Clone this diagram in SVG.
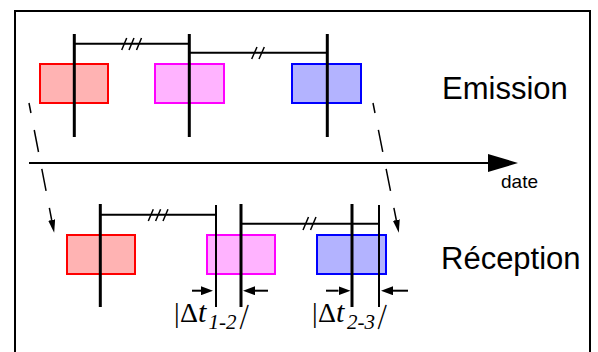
<svg xmlns="http://www.w3.org/2000/svg" width="598" height="352" viewBox="0 0 598 352">
<style>
.frame{fill:none;stroke:#000;stroke-width:2}
.red{fill:#ffb3b3;stroke:#ff0000;stroke-width:2}
.mag{fill:#ffb3ff;stroke:#ff00ff;stroke-width:2}
.blue{fill:#b3b3ff;stroke:#0000ff;stroke-width:2}
.tick{stroke:#000;stroke-width:3;fill:none}
.thin{stroke:#000;stroke-width:2;fill:none}
.hl{stroke:#000;stroke-width:2;fill:none}
.hash{stroke:#000;stroke-width:1.5;fill:none}
.dash{stroke:#000;stroke-width:1.5;fill:none;stroke-dasharray:22.4 17.3;stroke-dashoffset:12.2;marker-end:url(#hd)}
.da{stroke:#000;stroke-width:2;fill:none;marker-end:url(#hs)}
.lbl{font-family:"Liberation Sans",Arial,sans-serif;fill:#000}
.dt{font-family:"Liberation Serif","Times New Roman",serif;font-size:28px;fill:#000}
.it{font-style:italic}
.sub{font-style:italic;font-size:21px}
</style>
<defs>
<marker id="hd" markerUnits="userSpaceOnUse" markerWidth="13" markerHeight="7" viewBox="0 0 13 7" refX="0" refY="3.5" orient="auto"><path d="M0,0 L13,3.5 L0,7 z" fill="#000"/></marker>
<marker id="hs" markerUnits="userSpaceOnUse" markerWidth="12" markerHeight="9" viewBox="0 0 12 9" refX="0" refY="4.5" orient="auto"><path d="M0,0 L12,4.5 L0,9 z" fill="#000"/></marker>
<marker id="ha" markerUnits="userSpaceOnUse" markerWidth="30" markerHeight="18" viewBox="0 0 30 18" refX="0" refY="9" orient="auto"><path d="M0,0 L30,9 L0,18 z" fill="#000"/></marker>
</defs>
<rect class="frame" x="15" y="11" width="575" height="360"/>
<g id="emission-signals">
<rect id="e1" class="red" x="40" y="64" width="68" height="39"/>
<rect id="e2" class="mag" x="155" y="64" width="69" height="39"/>
<rect id="e3" class="blue" x="292" y="64" width="69" height="39"/>
</g>
<g id="reception-signals">
<rect id="r1" class="red" x="67" y="235" width="68" height="39"/>
<rect id="r2" class="mag" x="207" y="235" width="68" height="39"/>
<rect id="r3" class="blue" x="317" y="235" width="69" height="39"/>
</g>
<g id="connectors">
<line class="tick" x1="74.3" y1="34" x2="74.3" y2="137"/>
<line class="tick" x1="189.3" y1="34" x2="189.3" y2="137"/>
<line class="tick" x1="327.3" y1="34" x2="327.3" y2="137"/>
<line class="hl" x1="74" y1="43.7" x2="189" y2="43.7"/>
<line class="hl" x1="189" y1="52.7" x2="327" y2="52.7"/>
<path class="hash" d="M121.7,50 L126.7,38 M129,50 L134,38 M136.5,50 L141.5,38"/>
<path class="hash" d="M251.7,59 L257,47 M259,59 L264.3,47"/>
<line class="tick" x1="100.3" y1="204" x2="100.3" y2="307"/>
<line class="thin" x1="216" y1="205" x2="216" y2="307"/>
<line class="tick" x1="241" y1="204" x2="241" y2="307"/>
<line class="tick" x1="352" y1="204" x2="352" y2="307"/>
<line class="thin" x1="379" y1="205" x2="379" y2="307"/>
<line class="hl" x1="100" y1="214.7" x2="216" y2="214.7"/>
<line class="hl" x1="241" y1="223.7" x2="379" y2="223.7"/>
<path class="hash" d="M148.3,221 L153.3,209.3 M155.6,221 L160.6,209.3 M163,221 L168,209.3"/>
<path class="hash" d="M303,230 L308.5,217 M310.5,230 L316,217"/>
<line class="hl" x1="29" y1="163" x2="488" y2="163" marker-end="url(#ha)"/>
<line class="dash" x1="29" y1="103" x2="51.7" y2="220"/>
<line class="dash" x1="373" y1="103" x2="396.3" y2="220"/>
<line class="da" x1="192" y1="290.7" x2="201" y2="290.7"/>
<line class="da" x1="268" y1="290.7" x2="255" y2="290.7"/>
<line class="da" x1="326" y1="290.7" x2="338.5" y2="290.7"/>
<line class="da" x1="408" y1="290.7" x2="393" y2="290.7"/>
</g>
<g id="labels">
<text class="lbl" x="442" y="99" font-size="31">Emission</text>
<text class="lbl" x="441" y="269" font-size="31">Réception</text>
<text class="lbl" x="501" y="188" font-size="19">date</text>
<text class="dt" x="174" y="322">|<tspan x="180">Δ</tspan><tspan class="it" x="198" font-size="30">t</tspan><tspan class="sub" x="208.5" dy="7">1-2</tspan><tspan class="it" x="238" y="322" rotate="18">|</tspan></text>
<text class="dt" x="312" y="322">|<tspan x="318">Δ</tspan><tspan class="it" x="336" font-size="30">t</tspan><tspan class="sub" x="347" dy="7">2-3</tspan><tspan class="it" x="376" y="322" rotate="18">|</tspan></text>
</g>
</svg>
